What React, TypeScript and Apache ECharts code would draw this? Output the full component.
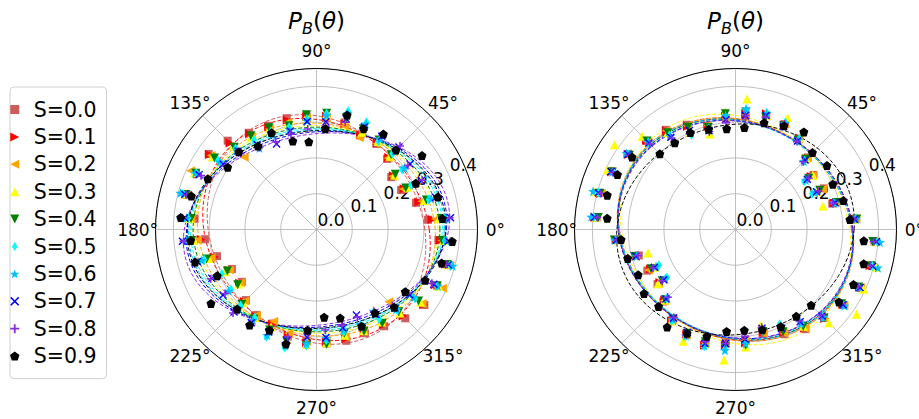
import React, { useEffect, useRef } from 'react';
import * as echarts from 'echarts';

const FONT = 'DejaVu Sans';

const SERIES_NAMES = ['S=0.0', 'S=0.1', 'S=0.2', 'S=0.3', 'S=0.4', 'S=0.5', 'S=0.6', 'S=0.7', 'S=0.8', 'S=0.9'];
const COLORS = ['#cd5c5c', '#ff0000', '#ffa500', '#ffff00', '#008000', '#00ffff', '#00bfff', '#0000ff', '#8a2be2', '#000000'];

const STAR = 'path://M5,0 L6.18,3.38 L9.76,3.45 L6.9,5.62 L7.94,9.05 L5,7 L2.06,9.05 L3.1,5.62 L0.24,3.45 L3.82,3.38 Z';
const SYMBOLS = [
  'path://M0,0 L10,0 L10,10 L0,10 Z',
  'path://M0,0 L10,5 L0,10 Z',
  'path://M10,0 L0,5 L10,10 Z',
  'path://M5,0 L10,10 L0,10 Z',
  'path://M0,0 L10,0 L5,10 Z',
  'path://M3,0 L6,5 L3,10 L0,5 Z',
  STAR,
  'path://M0,1.2 L1.2,0 L5,3.8 L8.8,0 L10,1.2 L6.2,5 L10,8.8 L8.8,10 L5,6.2 L1.2,10 L0,8.8 L3.8,5 Z',
  'path://M4,0 L6,0 L6,4 L10,4 L10,6 L6,6 L6,10 L4,10 L4,6 L0,6 L0,4 L4,4 Z',
  'path://M5,0 L9.76,3.45 L7.94,9.05 L2.06,9.05 L0.24,3.45 Z',
];
const SYMBOL_SIZES: any[] = [8, 9, 9, 9, 9, [6, 10], 10, 8, 8, 9];

// measured directions (deg); P_B repeats every 180 deg, so each value is shown at θ and θ+180
const HALF_ANGLES = [5, 15, 25, 35, 45, 55, 65, 75, 85, 95, 105, 115, 125, 135, 145, 155, 165, 175];

// Left panel
const L_S00 = [0.313, 0.288, 0.261, 0.255, 0.279, 0.292, 0.290, 0.310, 0.312, 0.320, 0.322, 0.320, 0.330, 0.351, 0.368, 0.372, 0.372, 0.342];
const L_S01 = [0.324, 0.296, 0.270, 0.262, 0.285, 0.296, 0.292, 0.306, 0.318, 0.316, 0.316, 0.316, 0.326, 0.342, 0.365, 0.366, 0.374, 0.347];
const L_S02 = [0.334, 0.305, 0.268, 0.260, 0.283, 0.293, 0.283, 0.300, 0.314, 0.312, 0.310, 0.310, 0.318, 0.286, 0.360, 0.388, 0.386, 0.352];
const L_S03 = [0.344, 0.312, 0.280, 0.266, 0.290, 0.300, 0.300, 0.318, 0.322, 0.318, 0.306, 0.312, 0.316, 0.330, 0.355, 0.376, 0.380, 0.356];
const L_S04 = [0.350, 0.318, 0.275, 0.269, 0.295, 0.305, 0.310, 0.323, 0.326, 0.322, 0.300, 0.314, 0.320, 0.325, 0.348, 0.372, 0.378, 0.352];
const L_S05 = [0.358, 0.325, 0.292, 0.292, 0.300, 0.301, 0.331, 0.342, 0.325, 0.310, 0.296, 0.302, 0.305, 0.320, 0.336, 0.370, 0.386, 0.360];
const L_S06 = [0.364, 0.332, 0.310, 0.300, 0.310, 0.310, 0.326, 0.336, 0.320, 0.305, 0.290, 0.292, 0.278, 0.315, 0.330, 0.374, 0.394, 0.365];
const L_S07 = [0.376, 0.345, 0.323, 0.319, 0.326, 0.318, 0.316, 0.320, 0.302, 0.303, 0.285, 0.264, 0.290, 0.310, 0.318, 0.362, 0.381, 0.370];
const L_S08 = [0.373, 0.350, 0.326, 0.312, 0.330, 0.322, 0.310, 0.310, 0.290, 0.282, 0.276, 0.270, 0.280, 0.300, 0.310, 0.356, 0.376, 0.376];
const L_S09 = [0.353, 0.351, 0.306, 0.360, 0.314, 0.326, 0.311, 0.331, 0.283, 0.246, 0.256, 0.298, 0.285, 0.307, 0.303, 0.335, 0.362, 0.381];

// Right panel
const R_S00 = [0.330, 0.280, 0.272, 0.266, 0.285, 0.310, 0.325, 0.330, 0.318, 0.310, 0.300, 0.323, 0.340, 0.350, 0.368, 0.386, 0.395, 0.390];
const R_S01 = [0.335, 0.285, 0.262, 0.258, 0.280, 0.312, 0.322, 0.335, 0.325, 0.318, 0.298, 0.318, 0.336, 0.352, 0.366, 0.382, 0.390, 0.395];
const R_S02 = [0.338, 0.290, 0.268, 0.262, 0.282, 0.308, 0.326, 0.328, 0.322, 0.312, 0.302, 0.320, 0.338, 0.348, 0.370, 0.386, 0.388, 0.392];
const R_S03 = [0.330, 0.253, 0.250, 0.264, 0.280, 0.312, 0.345, 0.330, 0.366, 0.330, 0.276, 0.300, 0.330, 0.369, 0.413, 0.395, 0.407, 0.392];
const R_S04 = [0.340, 0.292, 0.260, 0.250, 0.278, 0.305, 0.320, 0.325, 0.330, 0.325, 0.295, 0.315, 0.330, 0.350, 0.362, 0.380, 0.392, 0.385];
const R_S05 = [0.336, 0.283, 0.236, 0.234, 0.272, 0.311, 0.330, 0.338, 0.335, 0.315, 0.292, 0.292, 0.322, 0.345, 0.366, 0.376, 0.396, 0.398];
const R_S06 = [0.338, 0.286, 0.245, 0.240, 0.270, 0.306, 0.328, 0.336, 0.339, 0.320, 0.290, 0.300, 0.318, 0.346, 0.372, 0.380, 0.412, 0.405];
const R_S07 = [0.334, 0.288, 0.250, 0.245, 0.275, 0.302, 0.318, 0.330, 0.320, 0.308, 0.286, 0.305, 0.315, 0.342, 0.367, 0.384, 0.397, 0.395];
const R_S08 = [0.332, 0.282, 0.255, 0.250, 0.268, 0.300, 0.325, 0.325, 0.320, 0.300, 0.283, 0.298, 0.312, 0.338, 0.362, 0.378, 0.390, 0.388];
const R_S09 = [0.321, 0.312, 0.300, 0.312, 0.304, 0.333, 0.320, 0.309, 0.286, 0.283, 0.290, 0.299, 0.296, 0.299, 0.353, 0.364, 0.371, 0.360];

const LEFT_VALUES = [L_S00, L_S01, L_S02, L_S03, L_S04, L_S05, L_S06, L_S07, L_S08, L_S09];
const RIGHT_VALUES = [R_S00, R_S01, R_S02, R_S03, R_S04, R_S05, R_S06, R_S07, R_S08, R_S09];

// fitted elliptical curves: semi-axis along tilt, semi-axis across, tilt (deg)
const L_FIT_MAJOR = [0.335, 0.335, 0.335, 0.340, 0.345, 0.352, 0.358, 0.366, 0.375, 0.362];
const L_FIT_MINOR = [0.290, 0.292, 0.295, 0.290, 0.286, 0.282, 0.278, 0.272, 0.266, 0.276];
const L_FIT_TILT = [125, 140, 165, 175, 0, 3, 5, 8, 10, 5];
const R_FIT_MAJOR = [0.340, 0.338, 0.342, 0.345, 0.338, 0.336, 0.340, 0.336, 0.334, 0.335];
const R_FIT_MINOR = [0.298, 0.300, 0.300, 0.298, 0.298, 0.296, 0.296, 0.298, 0.298, 0.292];
const R_FIT_TILT = [145, 150, 148, 135, 150, 152, 148, 155, 155, 15];

const ANGLE_TICKS = [0, 45, 90, 135, 180, 225, 270, 315];
const RADIAL_TICKS = [0, 0.1, 0.2, 0.3, 0.4];
const R_MAX = 0.45;

const CENTERS = [[316.5, 229.5], [735.5, 229.5]];
const RADIUS = 161;

function pointsFor(vals: number[]) {
  const out: number[][] = [];
  [0, 180].forEach((h) => {
    HALF_ANGLES.forEach((a, i) => out.push([vals[i], a + h]));
  });
  return out;
}

function fitCurve(A: number, B: number, tilt: number) {
  const out: number[][] = [];
  for (let t = 0; t <= 360; t += 2) {
    const d = ((t - tilt) * Math.PI) / 180;
    const r = (A * B) / Math.sqrt(Math.pow(B * Math.cos(d), 2) + Math.pow(A * Math.sin(d), 2));
    out.push([r, t]);
  }
  return out;
}

export default function App() {
  const ref = useRef<HTMLDivElement>(null);
  useEffect(() => {
    if (!ref.current) return;
    const chart = echarts.init(ref.current, undefined, { renderer: 'svg' });

    const series: any[] = [];
    [LEFT_VALUES, RIGHT_VALUES].forEach((vals, p) => {
      const maj = p === 0 ? L_FIT_MAJOR : R_FIT_MAJOR;
      const min = p === 0 ? L_FIT_MINOR : R_FIT_MINOR;
      const tilt = p === 0 ? L_FIT_TILT : R_FIT_TILT;
      vals.forEach((v, i) => {
        series.push({
          type: 'scatter',
          name: SERIES_NAMES[i],
          coordinateSystem: 'polar',
          polarIndex: p,
          symbol: SYMBOLS[i],
          symbolSize: SYMBOL_SIZES[i],
          itemStyle: { color: COLORS[i], opacity: 1 },
          emphasis: { disabled: true },
          silent: true,
          data: pointsFor(v),
          z: 3,
        });
        series.push({
          type: 'line',
          name: 'fit ' + SERIES_NAMES[i],
          coordinateSystem: 'polar',
          polarIndex: p,
          symbol: 'none',
          showSymbol: false,
          silent: true,
          lineStyle: { color: COLORS[i], width: 1, type: [4, 2] },
          data: fitCurve(maj[i], min[i], tilt[i]),
          z: 3,
        });
      });
    });

    const angleAxis = [0, 1].map((p) => ({
      polarIndex: p,
      type: 'value',
      min: 0,
      max: 360,
      interval: 45,
      startAngle: 0,
      clockwise: false,
      axisLine: { lineStyle: { color: '#000', width: 1 } },
      axisTick: { show: false },
      axisLabel: { show: false },
      splitLine: { show: true, lineStyle: { color: '#b0b0b0', width: 0.8 } },
    }));
    const radiusAxis = [0, 1].map((p) => ({
      polarIndex: p,
      type: 'value',
      min: 0,
      max: R_MAX,
      interval: 0.1,
      axisLine: { show: false },
      axisTick: { show: false },
      axisLabel: { show: false },
      splitLine: { show: true, lineStyle: { color: '#b0b0b0', width: 0.8 } },
    }));

    chart.setOption({
      animation: false,
      textStyle: { fontFamily: FONT },
      polar: CENTERS.map((c) => ({ center: c, radius: RADIUS })),
      angleAxis,
      radiusAxis,
      legend: {
        data: SERIES_NAMES,
        orient: 'vertical',
        left: 10,
        top: 87,
        padding: [12, 10, 12, 0],
        itemGap: 6.4,
        itemWidth: 18,
        itemHeight: 9,
        selectedMode: false,
        backgroundColor: '#fff',
        borderColor: '#d0d0d0',
        borderWidth: 1,
        borderRadius: 4,
        textStyle: { fontSize: 20.5, fontFamily: FONT, color: '#000', padding: [0, 0, 0, 5] },
      },
      series,
    });

    const px = (p: number, r: number, a: number) => {
      let pt: any = null;
      try {
        pt = chart.convertToPixel({ polarIndex: p } as any, [r, a]);
      } catch (e) {
        pt = null;
      }
      if (!pt || isNaN(pt[0])) {
        const rr = (r / R_MAX) * RADIUS;
        const t = (a * Math.PI) / 180;
        pt = [CENTERS[p][0] + rr * Math.cos(t), CENTERS[p][1] - rr * Math.sin(t)];
      }
      return pt;
    };

    const elements: any[] = [];
    [0, 1].forEach((p) => {
      const c = px(p, 0, 0);
      elements.push({
        type: 'text',
        x: c[0],
        y: 6,
        z: 10,
        style: {
          text: '{i|P}{s|B}{n|(}{i|θ}{n|)}',
          align: 'center',
          verticalAlign: 'top',
          fill: '#000',
          rich: {
            i: { fontSize: 23, fontStyle: 'italic', fontFamily: FONT, lineHeight: 30, verticalAlign: 'middle', fill: '#000' },
            n: { fontSize: 23, fontFamily: FONT, lineHeight: 30, verticalAlign: 'middle', fill: '#000' },
            s: { fontSize: 16, fontStyle: 'italic', fontFamily: FONT, lineHeight: 16, verticalAlign: 'bottom', fill: '#000' },
          },
        },
      });
      ANGLE_TICKS.forEach((a) => {
        const pt = px(p, R_MAX + 0.05, a);
        elements.push({
          type: 'text',
          x: pt[0],
          y: pt[1],
          z: 10,
          style: { text: a + '°', align: 'center', verticalAlign: 'middle', fontSize: 17, fontFamily: FONT, fill: '#000' },
        });
      });
      RADIAL_TICKS.forEach((r) => {
        const pt = px(p, r, 22.5);
        elements.push({
          type: 'text',
          x: pt[0] + 1,
          y: pt[1] - 1,
          z: 0,
          style: { text: r.toFixed(1), align: 'left', verticalAlign: 'bottom', fontSize: 17, fontFamily: FONT, fill: '#000' },
        });
      });
    });
    chart.setOption({ graphic: elements });

    return () => chart.dispose();
  }, []);

  return <div ref={ref} style={{ position: 'absolute', left: 0, top: 0, width: 919, height: 419 }} />;
}
